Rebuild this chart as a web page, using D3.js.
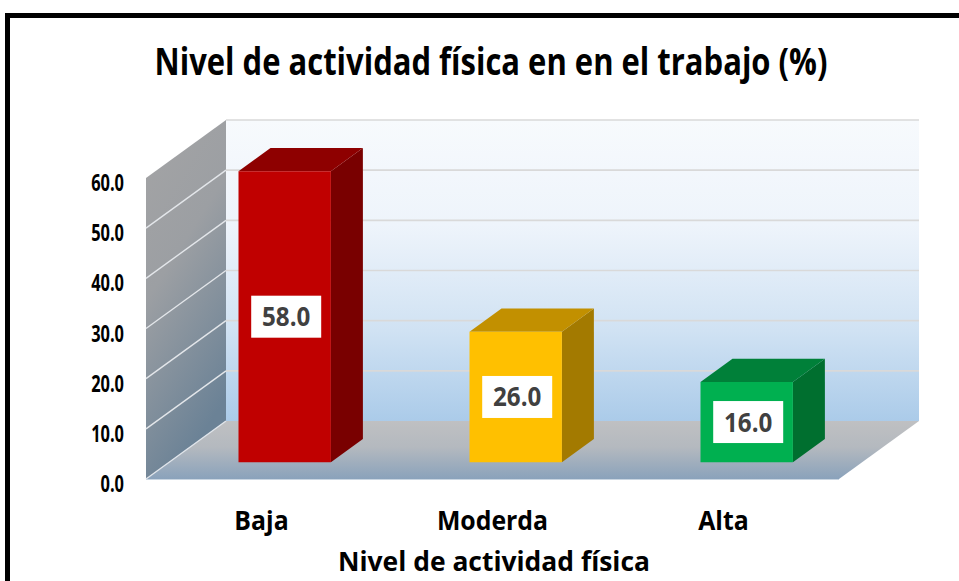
<!DOCTYPE html>
<html>
<head>
<meta charset="utf-8">
<script src="https://cdn.jsdelivr.net/npm/d3@7"></script>
<style>
  html, body { margin: 0; padding: 0; background: #ffffff; }
  svg { display: block; }
  text { font-family: "Open Sans", "Noto Sans", sans-serif; font-weight: 700; }
</style>
</head>
<body>
<svg id="chart" width="959" height="581"></svg>
<script>
// ---------- data ----------
const categories = ["Baja", "Moderda", "Alta"];
const values = [58.0, 26.0, 16.0];
const yTicks = [0, 10, 20, 30, 40, 50, 60];
const titleText = "Nivel de actividad física en en el trabajo (%)";
const xAxisTitle = "Nivel de actividad física";

// ---------- styles ----------
const frontColors = ["#c00000", "#ffc000", "#00b050"];
const topColors   = ["#8e0000", "#c29000", "#008039"];
const sideColors  = ["#790000", "#a37a00", "#006f2f"];

const svg = d3.select("#chart");
const W = 959, H = 581;

// ---------- 3D projection ----------
const origin = { x: 146, y: 479 };       // front-left corner of the floor
const depth = { dx: 80, dy: -58 };       // offset from front plane to back plane
const plotW = 693, plotH = 301;

const x = d3.scaleBand().domain(categories).range([0, plotW]).paddingInner(0.6).paddingOuter(0.3);
const xLab = d3.scaleBand().domain(categories).range([0, plotW]);
const y = d3.scaleLinear().domain([0, 60]).range([0, plotH]);

function Q(u, v, z) {
  return [origin.x + u + depth.dx * z, origin.y - y(v) + depth.dy * z];
}
const poly = pts => "M" + pts.map(p => p.join(",")).join("L") + "Z";

// ---------- gradients ----------
const defs = svg.append("defs");
const gBack = defs.append("linearGradient").attr("id", "gBack").attr("x1", 0).attr("y1", 0).attr("x2", 0).attr("y2", 1);
[[0, "#f7fafd"], [0.35, "#eef4fb"], [0.7, "#d0e2f3"], [1, "#abcbe9"]].forEach(s =>
  gBack.append("stop").attr("offset", s[0]).attr("stop-color", s[1]));
const gSide = defs.append("linearGradient").attr("id", "gSide").attr("x1", 0).attr("y1", 0).attr("x2", 0.35).attr("y2", 1);
[[0, "#a4a4a5"], [0.45, "#9c9fa3"], [1, "#6b8296"]].forEach(s =>
  gSide.append("stop").attr("offset", s[0]).attr("stop-color", s[1]));
const gFloor = defs.append("linearGradient").attr("id", "gFloor").attr("x1", 0).attr("y1", 0).attr("x2", 0).attr("y2", 1);
[[0, "#bfc0c2"], [0.45, "#b4b9bf"], [1, "#8aa2bb"]].forEach(s =>
  gFloor.append("stop").attr("offset", s[0]).attr("stop-color", s[1]));

// ---------- frame ----------
svg.append("rect").attr("x", 7.5).attr("y", 15.5).attr("width", W + 20).attr("height", H + 20)
  .attr("fill", "#ffffff").attr("stroke", "#000000").attr("stroke-width", 5);

// ---------- walls ----------
const vMax = y.domain()[1];
svg.append("path").attr("d", poly([Q(0, 0, 1), Q(0, vMax, 1), Q(plotW, vMax, 1), Q(plotW, 0, 1)]))
  .attr("fill", "url(#gBack)");
svg.append("path").attr("d", poly([Q(0, 0, 0), Q(0, vMax, 0), Q(0, vMax, 1), Q(0, 0, 1)]))
  .attr("fill", "url(#gSide)");
svg.append("path").attr("d", poly([Q(0, 0, 0), Q(0, 0, 1), Q(plotW, 0, 1), Q(plotW, 0, 0)]))
  .attr("fill", "url(#gFloor)");
svg.append("line")
  .attr("x1", Q(0, 0, 0)[0]).attr("y1", Q(0, 0, 0)[1] + 0.5)
  .attr("x2", Q(plotW, 0, 0)[0]).attr("y2", Q(plotW, 0, 0)[1] + 0.5)
  .attr("stroke", "#c9d5e1").attr("stroke-width", 1.2);

// gridlines on back wall
svg.append("g").selectAll("line").data(yTicks.filter(t => t > 0)).join("line")
  .attr("x1", t => Q(0, t, 1)[0]).attr("y1", t => Q(0, t, 1)[1])
  .attr("x2", t => Q(plotW, t, 1)[0]).attr("y2", t => Q(plotW, t, 1)[1])
  .attr("stroke", "#d9d9d9").attr("stroke-width", 1.6);
// gridlines on side wall
svg.append("g").selectAll("line").data(yTicks.filter(t => t > 0 && t < vMax)).join("line")
  .attr("x1", t => Q(0, t, 0)[0]).attr("y1", t => Q(0, t, 0)[1])
  .attr("x2", t => Q(0, t, 1)[0]).attr("y2", t => Q(0, t, 1)[1])
  .attr("stroke", "#e3e6ea").attr("stroke-width", 1.4);
svg.append("line")
  .attr("x1", Q(0, 0, 0)[0]).attr("y1", Q(0, 0, 0)[1])
  .attr("x2", Q(0, 0, 1)[0]).attr("y2", Q(0, 0, 1)[1])
  .attr("stroke", "#dfe4ea").attr("stroke-width", 1.4);

// ---------- bars ----------
const z0 = 0.29, z1 = 0.69;
const bars = svg.append("g").selectAll("g").data(categories.map((c, i) => ({ c, v: values[i], i }))).join("g");
bars.append("path") // side face
  .attr("d", d => { const a = x(d.c) + x.bandwidth();
    return poly([Q(a, 0, z0), Q(a, d.v, z0), Q(a, d.v, z1), Q(a, 0, z1)]); })
  .attr("fill", d => sideColors[d.i]);
bars.append("path") // top face
  .attr("d", d => { const a = x(d.c), b = x(d.c) + x.bandwidth();
    return poly([Q(a, d.v, z0), Q(a, d.v, z1), Q(b, d.v, z1), Q(b, d.v, z0)]); })
  .attr("fill", d => topColors[d.i]);
bars.append("path") // front face
  .attr("d", d => { const a = x(d.c), b = x(d.c) + x.bandwidth();
    return poly([Q(a, 0, z0), Q(a, d.v, z0), Q(b, d.v, z0), Q(b, 0, z0)]); })
  .attr("fill", d => frontColors[d.i]);

// helper to compress text horizontally
function fit(sel, target) {
  sel.each(function () {
    const w = this.getComputedTextLength();
    const t = typeof target === "function" ? target(w) : target;
    d3.select(this).attr("textLength", t).attr("lengthAdjust", "spacingAndGlyphs");
  });
}

// data labels
bars.each(function (d) {
  const g = d3.select(this);
  const cx = x(d.c) + x.bandwidth() / 2 + 1.5;
  const c = Q(cx, d.v / 2, z0);
  g.append("rect").attr("x", c[0] - 35).attr("y", c[1] - 21).attr("width", 70).attr("height", 42)
    .attr("fill", "#ffffff");
  const t = g.append("text").attr("x", c[0]).attr("y", c[1] + 9.5)
    .attr("text-anchor", "middle").attr("font-size", 26).attr("fill", "#404040")
    .text(d3.format(".1f")(d.v));
  fit(t, w => w * 0.93);
});

// ---------- y axis labels ----------
const yl = svg.append("g").selectAll("text").data(yTicks).join("text")
  .attr("x", 124).attr("y", t => Q(0, t, 0)[1] + 13)
  .attr("text-anchor", "end").attr("font-size", 22.5).attr("fill", "#000000")
  .text(d3.format(".1f"));
fit(yl, w => w * 0.73);

// ---------- x axis labels ----------
const xl = svg.append("g").selectAll("text").data(categories).join("text")
  .attr("x", c => origin.x + xLab(c) + xLab.bandwidth() / 2)
  .attr("y", 530)
  .attr("text-anchor", "middle").attr("font-size", 27).attr("fill", "#000000")
  .text(c => c);
fit(xl, w => w * 0.92);

// axis title
const at = svg.append("text").attr("x", 494).attr("y", 571)
  .attr("text-anchor", "middle").attr("font-size", 26).attr("fill", "#000000")
  .text(xAxisTitle);
fit(at, 312);

// chart title
const tt = svg.append("text").attr("x", 491).attr("y", 75)
  .attr("text-anchor", "middle").attr("font-size", 37).attr("fill", "#000000")
  .text(titleText);
fit(tt, 673);
</script>
</body>
</html>
